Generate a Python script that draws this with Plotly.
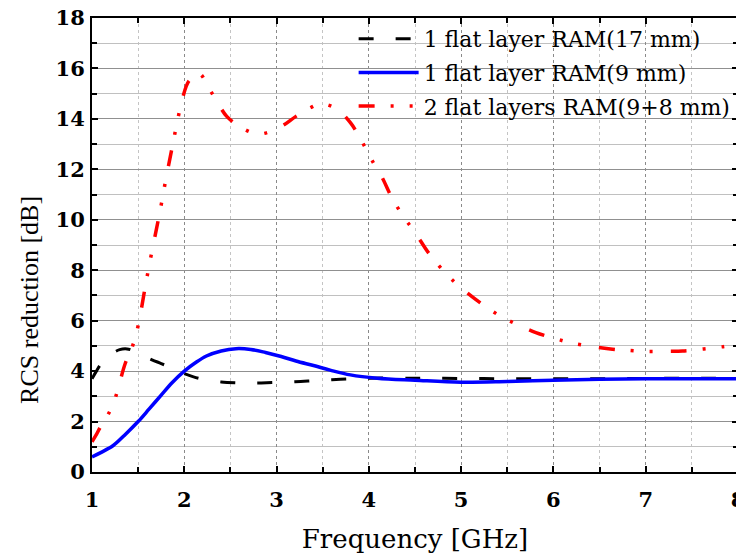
import plotly.graph_objects as go

# ---- data ----
x_17mm = [1.0, 1.04, 1.1, 1.2, 1.3, 1.38, 1.45, 1.55, 1.65, 1.75, 1.88, 2.0, 2.1, 2.25, 2.4,
          2.55, 2.75, 2.95, 3.2, 3.4, 3.6, 3.8, 4.0, 4.5, 5.0, 5.5, 6.0, 6.5, 7.0, 7.5, 8.0]
y_17mm = [3.7, 3.95, 4.3, 4.65, 4.85, 4.88, 4.8, 4.62, 4.45, 4.3, 4.1, 3.9, 3.77, 3.64, 3.57,
          3.54, 3.53, 3.55, 3.58, 3.62, 3.66, 3.69, 3.72, 3.72, 3.71, 3.7, 3.7, 3.7, 3.71, 3.72, 3.72]

x_9mm = [1.0, 1.1, 1.23, 1.35, 1.5, 1.62, 1.75, 1.87, 2.0, 2.12, 2.24, 2.4, 2.56, 2.72, 2.88,
         3.05, 3.21, 3.4, 3.58, 3.8, 4.09, 4.5, 5.0, 5.5, 6.0, 6.5, 7.0, 7.5, 8.0]
y_9mm = [0.6, 0.78, 1.05, 1.45, 2.0, 2.5, 3.05, 3.55, 4.0, 4.33, 4.6, 4.8, 4.89, 4.86, 4.74,
         4.58, 4.4, 4.22, 4.04, 3.85, 3.72, 3.64, 3.56, 3.59, 3.64, 3.68, 3.7, 3.7, 3.7]

x_2layers = [1.0, 1.05, 1.1, 1.17, 1.24, 1.3, 1.36, 1.44, 1.5, 1.57, 1.62, 1.68, 1.74, 1.8, 1.87,
             1.93, 1.98, 2.05, 2.16, 2.27, 2.36, 2.46, 2.62, 2.81, 3.05, 3.21, 3.37, 3.48, 3.65,
             3.8, 3.93, 4.05, 4.14, 4.26, 4.39, 4.5, 4.65, 4.84, 5.0, 5.21, 5.43, 5.6, 5.81,
             6.03, 6.19, 6.42, 6.64, 6.79, 7.0, 7.24, 7.4, 7.63, 7.84, 8.0]
y_2layers = [1.2, 1.5, 1.85, 2.25, 2.8, 3.55, 4.3, 5.0, 5.8, 7.2, 8.2, 9.3, 10.4, 11.6, 12.9,
             14.0, 14.8, 15.5, 15.8, 15.2, 14.65, 14.1, 13.65, 13.4, 13.7, 14.1, 14.45, 14.6, 14.4,
             13.85, 13.07, 12.25, 11.7, 10.8, 10.05, 9.5, 8.67, 7.85, 7.3, 6.7, 6.17, 5.86, 5.53,
             5.28, 5.12, 4.98, 4.87, 4.83, 4.78, 4.79, 4.8, 4.88, 4.97, 5.06]

names = ["1 flat layer RAM(17 mm)", "1 flat layer RAM(9 mm)", "2 flat layers RAM(9+8 mm)"]
x_title = "Frequency [GHz]"
y_title = "RCS reduction [dB]"

FONT = "DejaVu Serif"
TIMES = "Liberation Serif"

fig = go.Figure()
fig.add_trace(go.Scatter(x=x_17mm, y=y_17mm, mode="lines", name=names[0], line_shape="spline",
                         legendgroup="a",
                         line=dict(color="black", width=3, dash="15px,22px")))
fig.add_trace(go.Scatter(x=x_9mm, y=y_9mm, mode="lines", name=names[1], line_shape="spline",
                         legendgroup="b",
                         line=dict(color="#0000ff", width=3.5)))
fig.add_trace(go.Scatter(x=x_2layers, y=y_2layers, mode="lines", name=names[2], line_shape="spline",
                         legendgroup="c",
                         line=dict(color="#ff0000", width=3.5, dash="16px,16px,3px,16px,3px,18px")))

axis_common = dict(
    showline=True, linecolor="black", linewidth=2, mirror="allticks",
    ticks="inside", ticklen=6, tickwidth=1.5, tickcolor="black",
    tickfont=dict(family=FONT, size=21, color="black", weight="bold"),
    zeroline=False, automargin=False, ticklabeloverflow="allow",
)

fig.update_xaxes(
    range=[1, 8], dtick=1, tick0=1, ticklabelstandoff=8,
    showgrid=True, gridcolor="#8a8a8a", gridwidth=1, griddash="dot",
    minor=dict(dtick=0.5, ticks="inside", ticklen=5, tickcolor="black",
               showgrid=True, gridcolor="#c4c4c4", gridwidth=1, griddash="dot"),
    title=dict(text=x_title, font=dict(family=FONT, size=26, color="black"), standoff=20),
    **axis_common,
)
fig.update_yaxes(
    range=[0, 18], dtick=2, tick0=0, ticklabelstandoff=1,
    showgrid=True, gridcolor="#909090", gridwidth=1,
    minor=dict(dtick=1, ticks="inside", ticklen=5, tickcolor="black",
               showgrid=True, gridcolor="#c0c0c0", gridwidth=1),
    **axis_common,
)

fig.add_annotation(text=y_title, xref="paper", yref="paper", x=-0.096, y=0.379,
                   xanchor="center", yanchor="middle", textangle=-90, showarrow=False,
                   font=dict(family=TIMES, size=26, color="black"))

fig.update_layout(
    width=736, height=546,
    margin=dict(l=84, r=6, t=10, b=82),
    paper_bgcolor="white", plot_bgcolor="white",
    font=dict(family=FONT, color="black"),
    showlegend=True,
    legend=dict(x=0.405, y=1.0, xanchor="left", yanchor="top",
                bgcolor="rgba(0,0,0,0)", borderwidth=0,
                font=dict(family=FONT, size=22, color="black"),
                itemwidth=60, tracegroupgap=2),
)

fig.write_html("out.html")
